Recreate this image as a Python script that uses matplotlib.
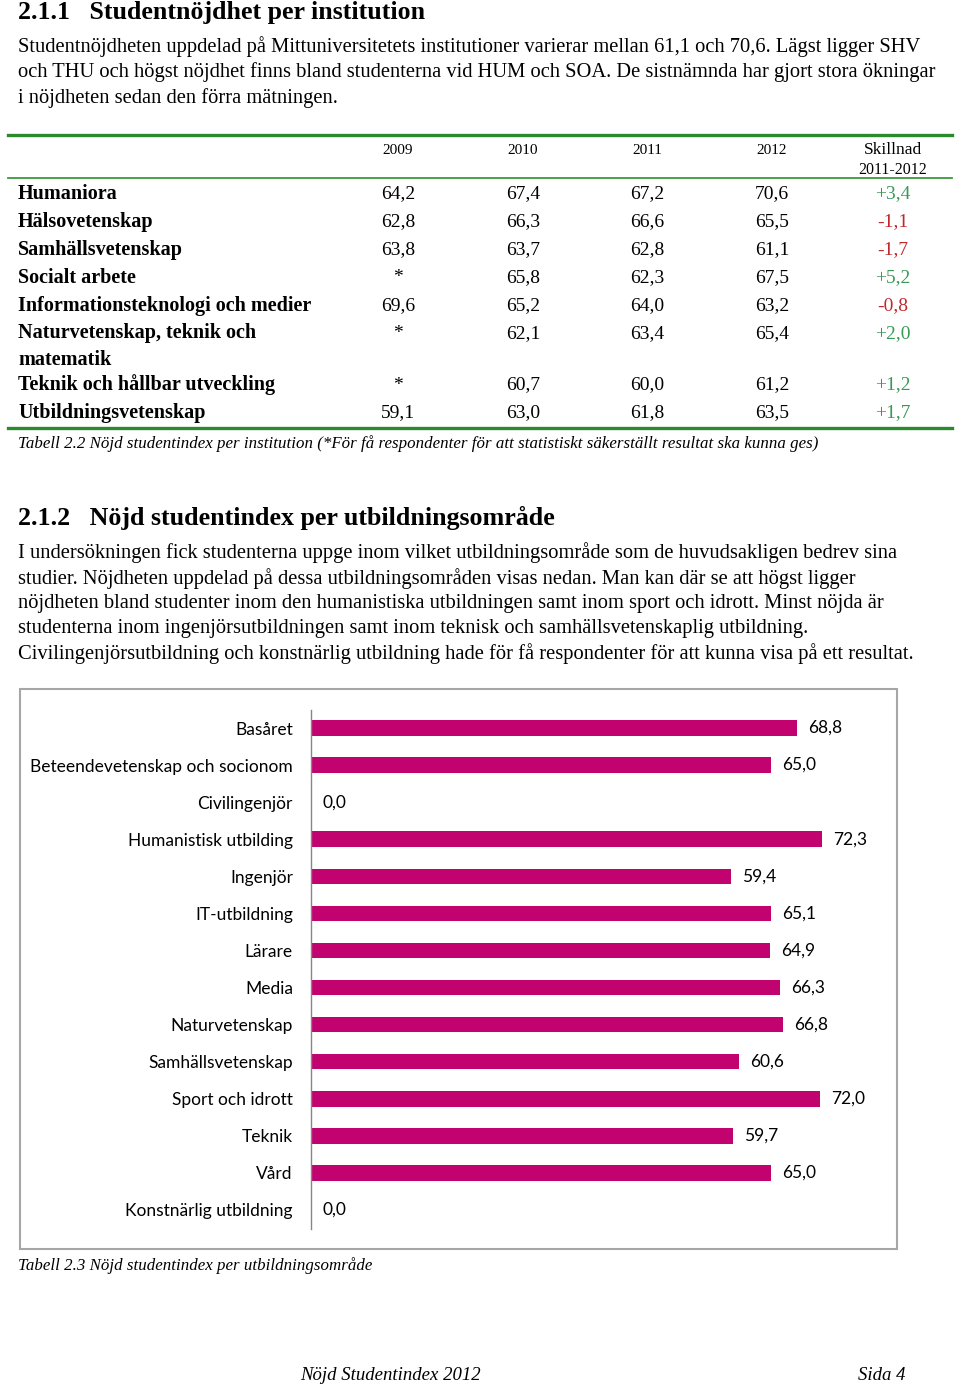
import matplotlib
matplotlib.use("Agg")
import matplotlib.pyplot as plt
from matplotlib.lines import Line2D
from matplotlib.patches import Rectangle

W, H = 960, 1389

# --- table 2.2: satisfaction per institution ---
institutions = ['Humaniora', 'Hälsovetenskap', 'Samhällsvetenskap', 'Socialt arbete',
                'Informationsteknologi och medier', 'Naturvetenskap, teknik och\nmatematik',
                'Teknik och hållbar utveckling', 'Utbildningsvetenskap']
years = ['2009', '2010', '2011', '2012']
v2009 = [64.2, 62.8, 63.8, None, 69.6, None, None, 59.1]
v2010 = [67.4, 66.3, 63.7, 65.8, 65.2, 62.1, 60.7, 63.0]
v2011 = [67.2, 66.6, 62.8, 62.3, 64.0, 63.4, 60.0, 61.8]
v2012 = [70.6, 65.5, 61.1, 67.5, 63.2, 65.4, 61.2, 63.5]
diff = [3.4, -1.1, -1.7, 5.2, -0.8, 2.0, 1.2, 1.7]

# --- chart 2.3: satisfaction per study area ---
areas = ['Basåret', 'Beteendevetenskap och socionom', 'Civilingenjör', 'Humanistisk utbilding',
         'Ingenjör', 'IT-utbildning', 'Lärare', 'Media', 'Naturvetenskap', 'Samhällsvetenskap',
         'Sport och idrott', 'Teknik', 'Vård', 'Konstnärlig utbildning']
scores = [68.8, 65.0, 0.0, 72.3, 59.4, 65.1, 64.9, 66.3, 66.8, 60.6, 72.0, 59.7, 65.0, 0.0]

para1 = ["Studentnöjdheten uppdelad på Mittuniversitetets institutioner varierar mellan 61,1 och 70,6. Lägst ligger SHV",
         "och THU och högst nöjdhet finns bland studenterna vid HUM och SOA. De sistnämnda har gjort stora ökningar",
         "i nöjdheten sedan den förra mätningen."]
para2 = ["I undersökningen fick studenterna uppge inom vilket utbildningsområde som de huvudsakligen bedrev sina",
         "studier. Nöjdheten uppdelad på dessa utbildningsområden visas nedan. Man kan där se att högst ligger",
         "nöjdheten bland studenter inom den humanistiska utbildningen samt inom sport och idrott. Minst nöjda är",
         "studenterna inom ingenjörsutbildningen samt inom teknisk och samhällsvetenskaplig utbildning.",
         "Civilingenjörsutbildning och konstnärlig utbildning hade för få respondenter för att kunna visa på ett resultat."]

SERIF = 'Liberation Serif'
SANS = 'Lato'
GREEN = '#2b8a2b'
POS = '#3a9a55'
NEG = '#c0282d'
BAR = '#c2036f'
BODY = 14.8


def fmt(v):
    return '*' if v is None else f"{v:.1f}".replace('.', ',')


def txt(fig, x, y, s, **kw):
    kw.setdefault('va', 'center')
    kw.setdefault('family', SERIF)
    return fig.text(x / W, 1 - (y + 2) / H, s, **kw)


def hline(fig, x0, x1, y, lw, color):
    fig.add_artist(Line2D([x0 / W, x1 / W], [1 - y / H, 1 - y / H], lw=lw, color=color,
                          transform=fig.transFigure))


fig = plt.figure(figsize=(W / 100, H / 100), dpi=100)

# section 2.1.1
txt(fig, 18, 11, '2.1.1   Studentnöjdhet per institution', fontsize=18.6, weight='bold')
for i, line in enumerate(para1):
    txt(fig, 18, 45 + 25.3 * i, line, fontsize=BODY)

# table
hline(fig, 8, 952, 135, 2.4, GREEN)
cols = [398, 523, 647, 772]
for x, yr in zip(cols, years):
    txt(fig, x, 148, yr, fontsize=11, ha='center')
txt(fig, 893, 148, 'Skillnad', fontsize=12.5, ha='center')
txt(fig, 893, 168, '2011-2012', fontsize=11.4, ha='center')
hline(fig, 8, 952, 178, 1.3, '#3d9a3d')

row_y = [192, 220, 248, 276, 304, 332, 383, 411]
for i, name in enumerate(institutions):
    y = row_y[i]
    if '\n' in name:
        txt(fig, 18, y - 11, name, fontsize=14.5, weight='bold', va='top', linespacing=1.45)
    else:
        txt(fig, 18, y, name, fontsize=14.5, weight='bold')
    for x, vals in zip(cols, [v2009, v2010, v2011, v2012]):
        txt(fig, x, y, fmt(vals[i]), fontsize=14, ha='center')
    d = diff[i]
    txt(fig, 893, y, ('+' if d > 0 else '') + fmt(d), fontsize=14, ha='center',
        color=POS if d > 0 else NEG)
hline(fig, 8, 952, 428, 2.4, GREEN)
txt(fig, 18, 442, 'Tabell 2.2 Nöjd studentindex per institution (*För få respondenter för att statistiskt '
    'säkerställt resultat ska kunna ges)', fontsize=12.2, style='italic')

# section 2.1.2
txt(fig, 18, 516, '2.1.2   Nöjd studentindex per utbildningsområde', fontsize=18.7, weight='bold')
for i, line in enumerate(para2):
    txt(fig, 18, 551 + 25.2 * i, line, fontsize=BODY)

# chart frame
fig.add_artist(Rectangle((20 / W, 1 - 1249 / H), 877 / W, 560 / H, transform=fig.transFigure,
                         fill=False, edgecolor='#a6a6a6', lw=1.5))

ax = fig.add_axes([311 / W, 1 - 1228.5 / H, 565.6 / W, 519 / H])
pos = range(len(areas))
ax.barh(pos, scores, height=0.42, color=BAR)
ax.set_xlim(0, 80)
ax.set_ylim(len(areas) - 0.5, -0.5)
ax.set_yticks(list(pos))
ax.set_yticklabels(areas, family=SANS, fontsize=12.5)
ax.tick_params(axis='y', length=0, pad=13)
ax.set_xticks([])
for s in ['top', 'right', 'bottom']:
    ax.spines[s].set_visible(False)
ax.spines['left'].set_color('#868686')
ax.spines['left'].set_linewidth(1)
for p, v in zip(pos, scores):
    ax.annotate(fmt(v), (v, p), xytext=(8, 0), textcoords='offset points', va='center',
                family=SANS, fontsize=12.5)

txt(fig, 18, 1264, 'Tabell 2.3 Nöjd studentindex per utbildningsområde', fontsize=12.2, style='italic')

# footer
txt(fig, 390, 1374, 'Nöjd Studentindex 2012', fontsize=13.5, style='italic', ha='center')
txt(fig, 905, 1374, 'Sida 4', fontsize=13.5, style='italic', ha='right')

fig.savefig('out.png', dpi=100)
